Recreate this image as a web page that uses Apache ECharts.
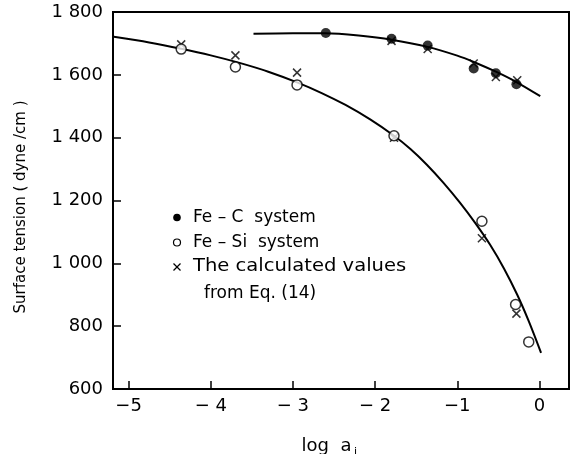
<!DOCTYPE html>
<html>
<head>
<meta charset="utf-8">
<script src="https://cdn.jsdelivr.net/npm/echarts@6/dist/echarts.min.js"></script>
<style>
html,body{margin:0;padding:0;background:#fff;}
#chart{width:578px;height:454px;}
</style>
</head>
<body>
<div id="chart"></div>
<script>
// ---- data ----
const xTickValues = [-5, -4, -3, -2, -1, 0];
const xTickLabels = ['\u22125', '\u2212 4', '\u2212 3', '\u2212 2', '\u22121', '0'];
const yTickValues = [600, 800, 1000, 1200, 1400, 1600, 1800];
const yTickLabels = ['600', '800', '1 000', '1 200', '1 400', '1 600', '1 800'];

// Fe-C system (filled circles)
const feC_x = [-2.60, -1.80, -1.36, -0.80, -0.53, -0.28];
const feC_y = [1733, 1715, 1693, 1620, 1605, 1570];
// Fe-Si system (open circles)
const feSi_x = [-4.36, -3.70, -2.95, -1.77, -0.70, -0.29, -0.13];
const feSi_y = [1682, 1625, 1568, 1406, 1134, 869, 750];
// calculated values from Eq. (14) (crosses)
const calc_x = [-4.36, -3.70, -2.95, -1.77, -0.70, -0.28, -1.80, -1.36, -0.80, -0.53, -0.27];
const calc_y = [1697, 1662, 1607, 1400, 1080, 840, 1708, 1682, 1636, 1593, 1583];
// fitted curves
const feCCurve_x = [-3.48, -3.0, -2.6, -2.2, -1.8, -1.36, -1.0, -0.8, -0.53, -0.28, 0.01];
const feCCurve_y = [1731, 1732, 1732, 1725, 1712, 1689, 1661, 1641, 1610, 1577, 1532];
const feSiCurve_x = [-5.18, -4.75, -4.36, -4.0, -3.65, -3.3, -2.95, -2.65, -2.36, -2.06, -1.77, -1.57, -1.37, -1.17, -0.97, -0.78, -0.60, -0.43, -0.27, -0.13, 0.02];
const feSiCurve_y = [1721, 1703, 1683, 1662, 1638, 1610, 1576, 1542, 1504, 1458, 1406, 1364, 1314, 1257, 1194, 1128, 1059, 983, 900, 816, 715];

const legendNames = ['Fe \u2013 C  system', 'Fe \u2013 Si  system', 'The calculated values', 'from Eq. (14)'];
const xName = 'log  a';
const xNameSub = 'i';
const yName = 'Surface tension ( dyne /cm )';

const zip = (xs, ys) => xs.map((x, i) => [x, ys[i]]);
const FONT = 'DejaVu Sans';
const crossPath = 'path://M0,0L10,10M10,0L0,10';

const chart = echarts.init(document.getElementById('chart'), null, {renderer: 'canvas'});
chart.setOption({
  animation: false,
  backgroundColor: '#fff',
  textStyle: {fontFamily: FONT, color: '#000'},
  grid: {left: 113, right: 9, top: 12, bottom: 65, show: true, borderColor: '#000', borderWidth: 2, backgroundColor: 'transparent'},
  xAxis: {
    type: 'value', min: -5.19, max: 0.36,
    axisLine: {show: true, onZero: false, lineStyle: {color: '#000', width: 2}},
    axisTick: {show: true, inside: true, length: 8, customValues: xTickValues, lineStyle: {color: '#000', width: 1.5}},
    axisLabel: {
      customValues: xTickValues, margin: 8, fontSize: 18, color: '#000', fontFamily: FONT,
      formatter: v => { const i = xTickValues.findIndex(t => Math.abs(t - v) < 1e-6); return i >= 0 ? xTickLabels[i] : ''; }
    },
    splitLine: {show: false}
  },
  yAxis: {
    type: 'value', min: 600, max: 1800, interval: 200,
    axisLine: {show: true, onZero: false, lineStyle: {color: '#000', width: 2}},
    axisTick: {show: true, inside: true, length: 8, lineStyle: {color: '#000', width: 1.5}},
    axisLabel: {
      margin: 10, fontSize: 18, color: '#000', fontFamily: FONT,
      formatter: v => { const i = yTickValues.indexOf(v); return i >= 0 ? yTickLabels[i] : ''; }
    },
    splitLine: {show: false}
  },
  graphic: [
    {type: 'text', x: 21.5, y: 207, rotation: Math.PI / 2,
     style: {text: yName, font: '15px "DejaVu Sans"', fill: '#000', align: 'center', verticalAlign: 'middle'}},
    {type: 'text', x: 301.5, y: 446.5,
     style: {text: xName, font: '18px "DejaVu Sans"', fill: '#000', align: 'left', verticalAlign: 'middle'}},
    {type: 'text', x: 354, y: 452,
     style: {text: xNameSub, font: '11px "DejaVu Sans"', fill: '#000', align: 'left', verticalAlign: 'middle'}},
    // legend
    {type: 'circle', shape: {cx: 177, cy: 217.5, r: 3.8}, style: {fill: '#000'}},
    {type: 'circle', shape: {cx: 177, cy: 242.5, r: 3.5}, style: {fill: '#fff', stroke: '#000', lineWidth: 1.2}},
    {type: 'group', x: 177, y: 267, children: [
      {type: 'line', shape: {x1: -3.5, y1: -3.5, x2: 3.5, y2: 3.5}, style: {stroke: '#000', lineWidth: 1.2}},
      {type: 'line', shape: {x1: 3.5, y1: -3.5, x2: -3.5, y2: 3.5}, style: {stroke: '#000', lineWidth: 1.2}}
    ]},
    {type: 'text', x: 193, y: 218, style: {text: legendNames[0], font: '17px "DejaVu Sans"', fill: '#000', align: 'left', verticalAlign: 'middle'}},
    {type: 'text', x: 193, y: 243, style: {text: legendNames[1], font: '17px "DejaVu Sans"', fill: '#000', align: 'left', verticalAlign: 'middle'}},
    {type: 'text', x: 193, y: 267, scaleX: 1.15, scaleY: 1, style: {text: legendNames[2], font: '17px "DejaVu Sans"', fill: '#000', align: 'left', verticalAlign: 'middle'}},
    {type: 'text', x: 204, y: 294, style: {text: legendNames[3], font: '17px "DejaVu Sans"', fill: '#000', align: 'left', verticalAlign: 'middle'}}
  ],
  series: [
    {type: 'line', name: 'FeC curve', data: zip(feCCurve_x, feCCurve_y), smooth: 0.3, showSymbol: false, symbol: 'none',
     lineStyle: {color: '#000', width: 2}, z: 2, silent: true},
    {type: 'line', name: 'FeSi curve', data: zip(feSiCurve_x, feSiCurve_y), smooth: 0.3, showSymbol: false, symbol: 'none',
     lineStyle: {color: '#000', width: 2}, z: 2, silent: true},
    {type: 'scatter', name: 'calculated', data: zip(calc_x, calc_y), symbol: crossPath, symbolSize: 8,
     itemStyle: {color: 'rgba(0,0,0,0)', borderColor: '#000', borderWidth: 1.5}, z: 3},
    {type: 'scatter', name: 'Fe-C system', data: zip(feC_x, feC_y), symbol: 'circle', symbolSize: 10,
     itemStyle: {color: '#000'}, z: 4},
    {type: 'scatter', name: 'Fe-Si system', data: zip(feSi_x, feSi_y), symbol: 'circle', symbolSize: 10,
     itemStyle: {color: '#fff', borderColor: '#000', borderWidth: 1.5}, z: 5}
  ]
});
</script>
</body>
</html>
